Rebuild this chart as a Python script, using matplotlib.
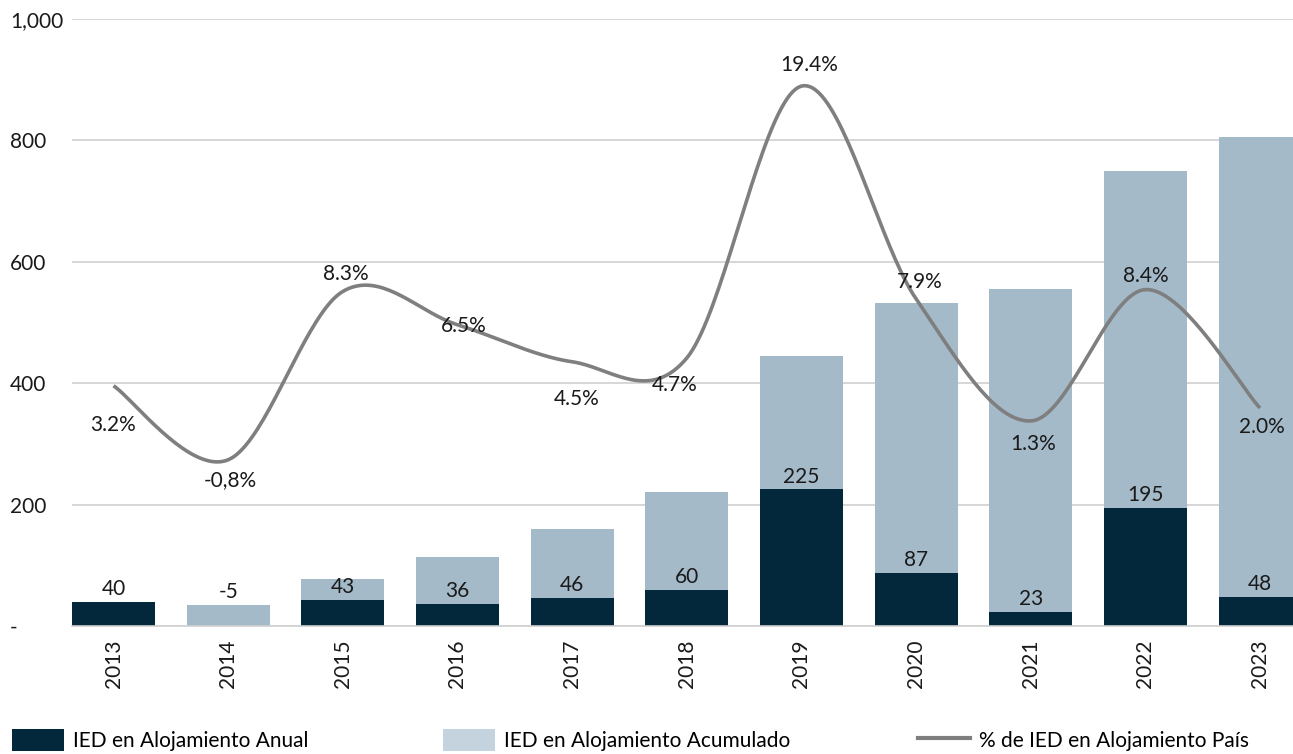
import numpy as np
import matplotlib
matplotlib.use("Agg")
import matplotlib.pyplot as plt
from matplotlib.patches import Patch
from matplotlib.lines import Line2D
from matplotlib.ticker import FuncFormatter

# ---------------- data ----------------
years = ["2013", "2014", "2015", "2016", "2017", "2018", "2019", "2020", "2021", "2022", "2023"]
ied_anual = [40, -5, 43, 36, 46, 60, 225, 87, 23, 195, 48]
ied_acumulado = [40, 35, 78, 114, 160, 220, 445, 532, 555, 750, 805]
pct_ied = [3.2, -0.8, 8.3, 6.5, 4.5, 4.7, 19.4, 7.9, 1.3, 8.4, 2.0]
pct_labels = ["3.2%", "-0,8%", "8.3%", "6.5%", "4.5%", "4.7%", "19.4%", "7.9%", "1.3%", "8.4%", "2.0%"]

legend_labels = ["IED en Alojamiento Anual", "IED en Alojamiento Acumulado", "% de IED en Alojamiento País"]

# ---------------- style ----------------
DARK = "#03283c"
LIGHT = "#a4bac9"
LIGHT_LEG = "#c5d3de"
LINE = "#7f7f80"
GRID = "#d0d0d0"
TXT = "#1a1a1a"
FONT = ["Lato", "DejaVu Sans"]
FS = 15

plt.rcParams["font.family"] = FONT

# label offsets for % labels (pixels: dx, dy downward)
pct_off_px = [(0, 39), (2, 20), (3, -17), (6, 1), (5, 37), (-12, 27),
              (8, -21), (4, -17), (2, 23), (0, -14), (2, 19)]
legend_x_px = [12, 443, 918]

W, H = 1293, 754
fig = plt.figure(figsize=(W / 100, H / 100), dpi=100)
ax = fig.add_axes([72 / W, (H - 626) / H, (W - 72) / W, (626 - 19) / H])

x = np.arange(len(years))
bw = 0.724

ax.bar(x, ied_acumulado, width=bw, color=LIGHT, zorder=2)
ax.bar(x, ied_anual, width=bw, color=DARK, zorder=3)

ax.set_xlim(-bw / 2, (W - 113) / 114.7)
ax.set_ylim(0, 1000)
ax.set_yticks(np.arange(0, 1001, 200))
ax.yaxis.set_major_formatter(FuncFormatter(lambda v, p: "-" if v == 0 else f"{int(v):,}"))
ax.grid(axis="y", color=GRID, linewidth=1.2, zorder=0)
ax.set_axisbelow(True)
for s in ["top", "right", "left"]:
    ax.spines[s].set_visible(False)
ax.spines["bottom"].set_color(GRID)
ax.spines["bottom"].set_linewidth(1.2)
ax.spines["bottom"].set_zorder(4)

ax.set_xticks(x)
ax.set_xticklabels(years, rotation=90, fontsize=FS, color=TXT)
ax.tick_params(axis="x", length=0, pad=10)
ax.tick_params(axis="y", length=0, pad=62 * 0.72, labelsize=FS, labelcolor=TXT)
for t in ax.get_yticklabels():
    t.set_horizontalalignment("left")

# bar value labels
for i, (a, c) in enumerate(zip(ied_anual, ied_acumulado)):
    ypos = a if a > 0 else c
    ax.annotate(f"{a}", (x[i], ypos), xytext=(0, 2), textcoords="offset points",
                ha="center", va="bottom", fontsize=FS, color=TXT, zorder=6)

# secondary axis: smoothed line
ax2 = ax.twinx()
ax2.set_ylim((445 - 626) / 18.5, (445 - 19) / 18.5)
ax2.set_xlim(ax.get_xlim())
ax2.axis("off")


def catmull_rom(xs, ys, n=40, tension=0.5):
    xs = np.asarray(xs, float)
    ys = np.asarray(ys, float)
    P = np.column_stack([xs, ys])
    P = np.vstack([P[0], P, P[-1]])
    out = []
    for k in range(1, len(P) - 2):
        p0, p1, p2, p3 = P[k - 1], P[k], P[k + 1], P[k + 2]
        m1 = tension * (p2 - p0)
        m2 = tension * (p3 - p1)
        t = np.linspace(0, 1, n)[:, None]
        h00 = 2 * t**3 - 3 * t**2 + 1
        h10 = t**3 - 2 * t**2 + t
        h01 = -2 * t**3 + 3 * t**2
        h11 = t**3 - t**2
        seg = h00 * p1 + h10 * m1 + h01 * p2 + h11 * m2
        out.append(seg if k == 1 else seg[1:])
    S = np.vstack(out)
    return S[:, 0], S[:, 1]


sx, sy = catmull_rom(x, pct_ied)
ax2.plot(sx, sy, color=LINE, linewidth=2.6, solid_capstyle="butt", zorder=5)

for i, (v, lab) in enumerate(zip(pct_ied, pct_labels)):
    dx, dy = pct_off_px[i]
    ax2.annotate(lab, (x[i], v), xytext=(dx * 0.72, -dy * 0.72), textcoords="offset points",
                 ha="center", va="center", fontsize=FS, color=TXT, zorder=6)

# legend (one entry per column, placed at the reference positions)
handles = [
    Patch(facecolor=DARK, edgecolor="none"),
    Patch(facecolor=LIGHT_LEG, edgecolor="none"),
    Line2D([0], [0], color=LINE, linewidth=3),
]
for hdl, lab, lx in zip(handles, legend_labels, legend_x_px):
    fig.legend([hdl], [lab], loc="center left", bbox_to_anchor=(lx / W, (H - 740) / H),
               frameon=False, fontsize=FS, handlelength=52 / 20.8, handleheight=1.3,
               handletextpad=0.45, borderaxespad=0, borderpad=0)

fig.savefig("out.png", dpi=100)
